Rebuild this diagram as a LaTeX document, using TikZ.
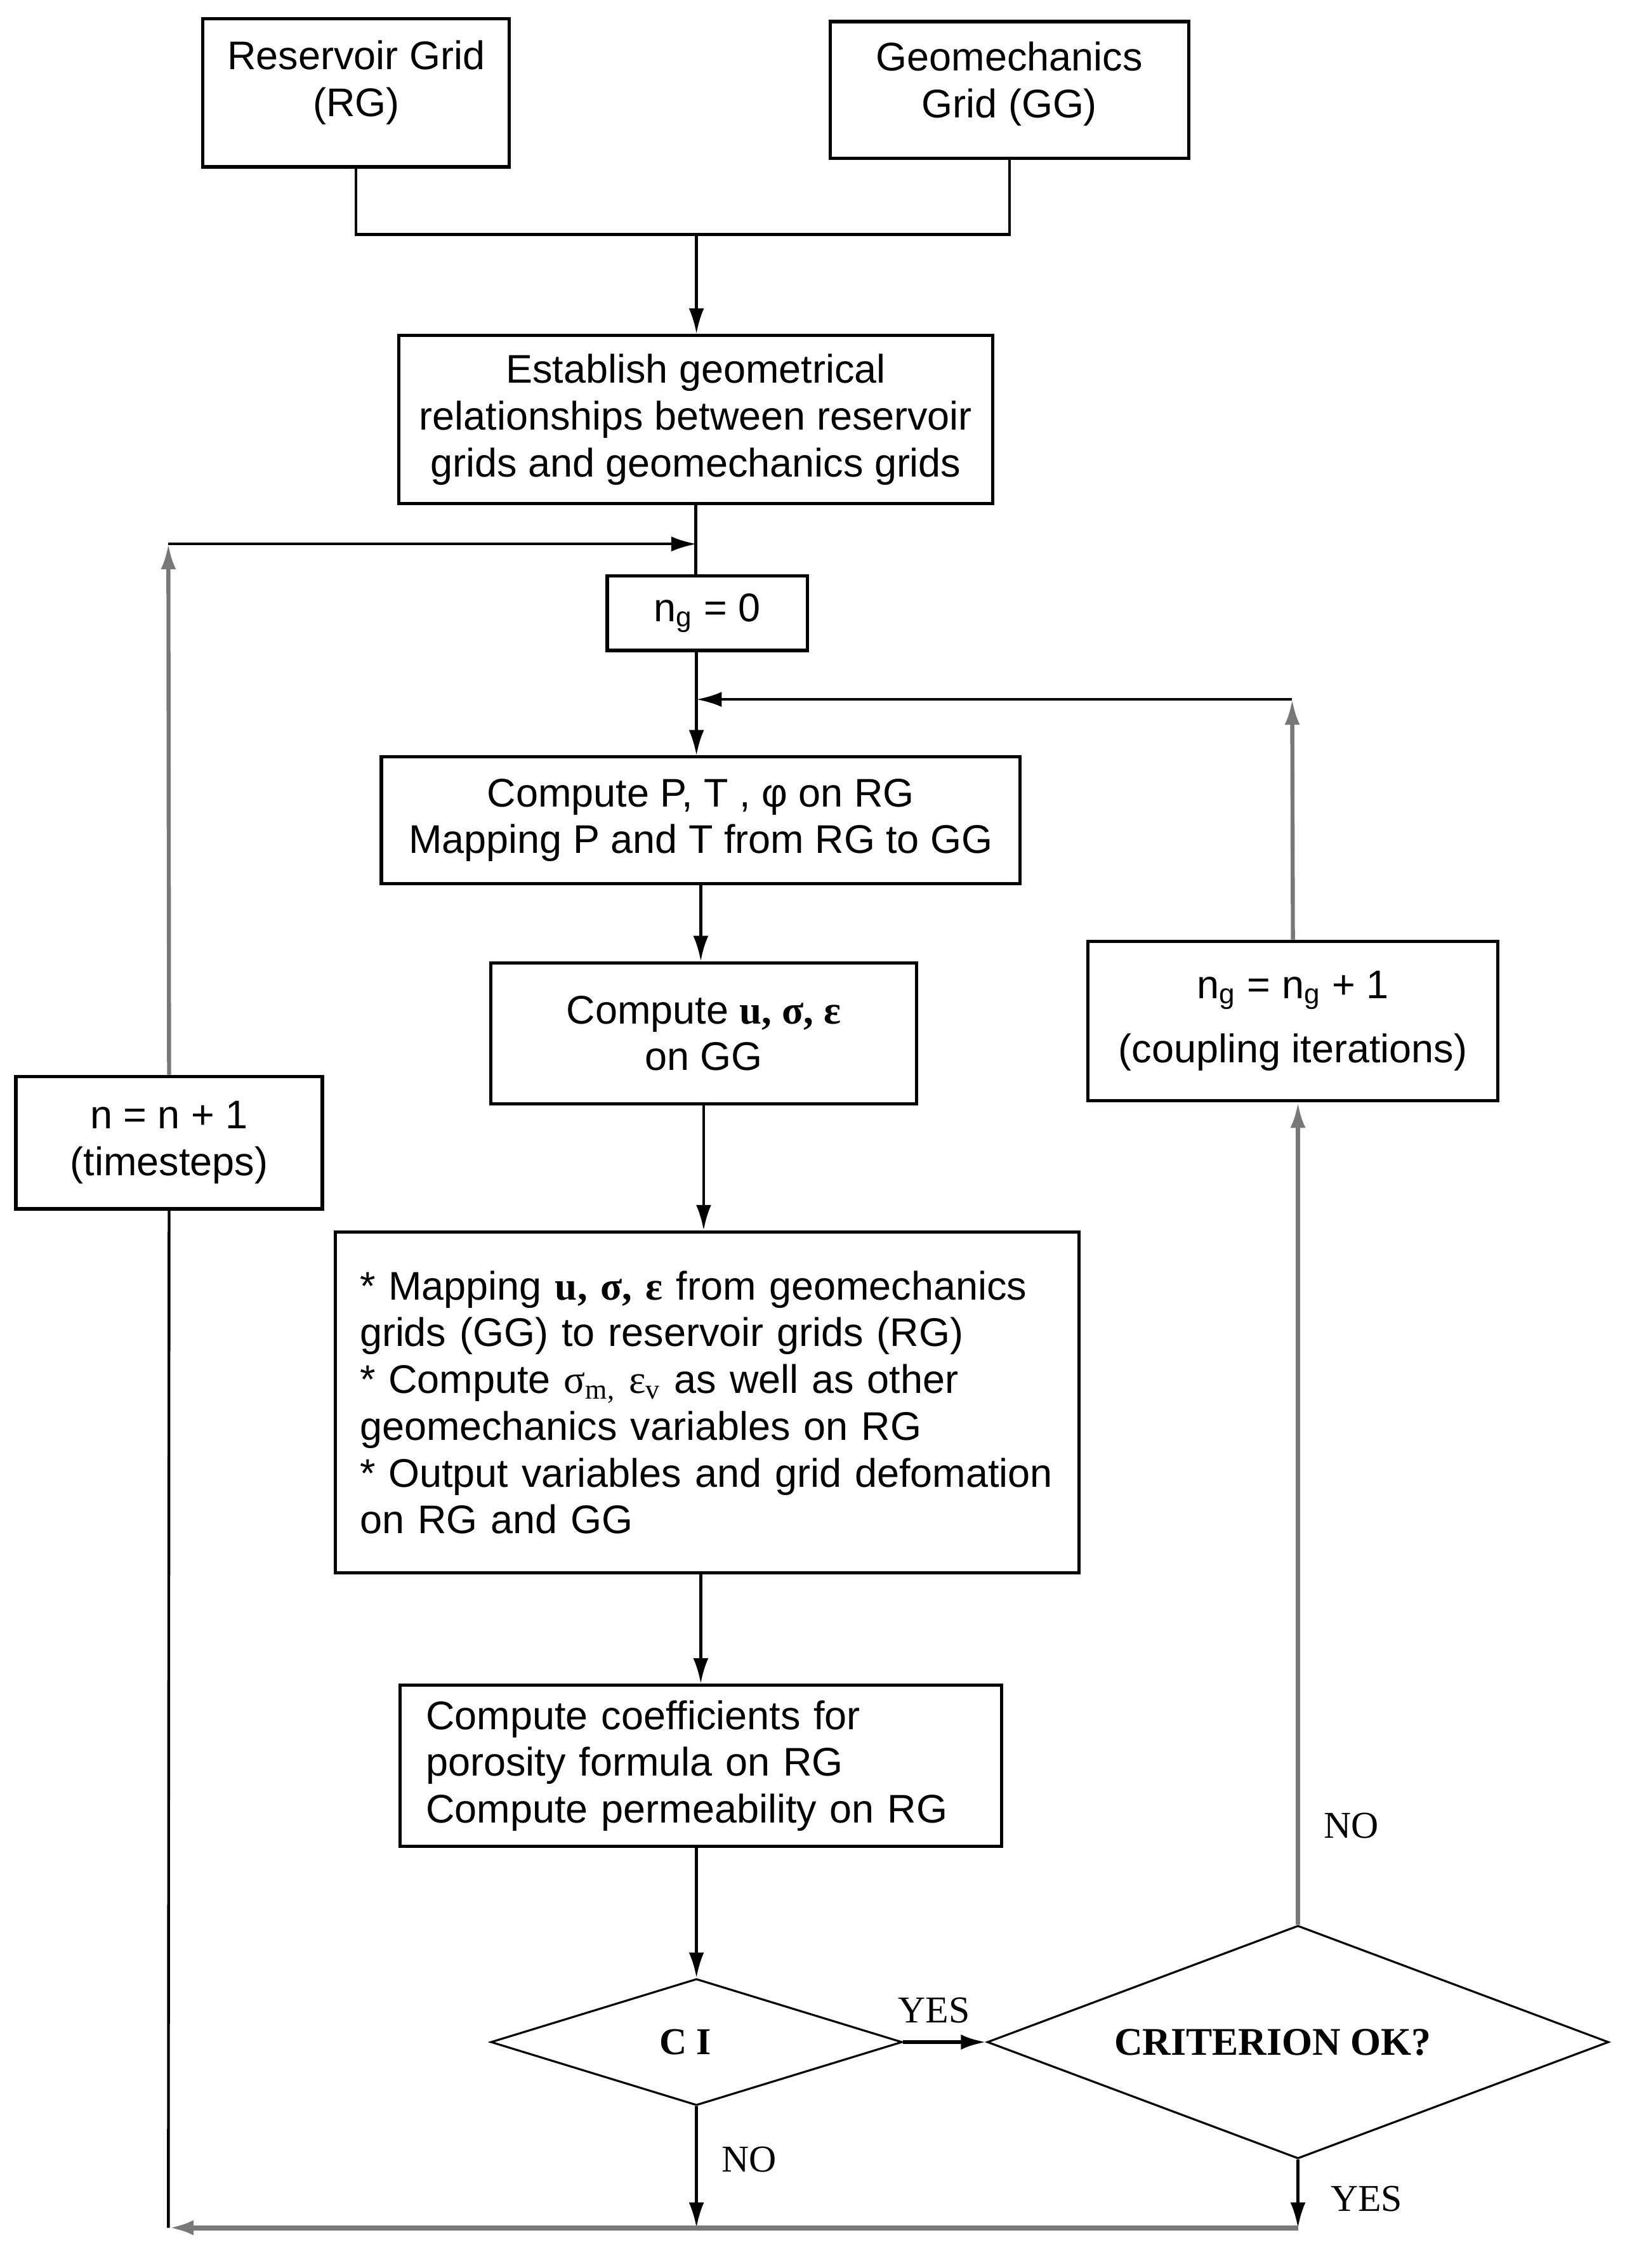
\documentclass[tikz,border=0pt]{standalone}
\usepackage{fontspec}
\setmainfont{Liberation Sans}
\newfontfamily\rmtimes{Liberation Serif}
\usetikzlibrary{shapes.geometric,arrows.meta}
\definecolor{linegray}{gray}{0.47}

\begin{document}
\begin{tikzpicture}[x=0.02cm,y=-0.02cm]
    \useasboundingbox (0,0) rectangle (1134,1576);
    \begin{scope}[every node/.style={draw, line width=1.3pt, align=center, inner sep=2pt, font=\fontsize{15.8}{18.5}\selectfont}]
        \node[minimum width=4.26cm, minimum height=2.06cm] (rg) at (247.5,64.5) {Reservoir Grid\\(RG)\\[-7pt]};
        \node[minimum width=4.98cm, minimum height=1.90cm] (gg) at (701.5,62.5) {Geomechanics\\Grid (GG)\\[-10.5pt]};
        \node[minimum width=8.26cm, minimum height=2.34cm] (est) at (483.5,291.5) {Establish geometrical\\relationships between reservoir\\grids and geomechanics grids};
        \node[minimum width=2.78cm, minimum height=1.04cm] (ng0) at (491.5,426) {n\textsubscript{g} = 0};
        \node[minimum width=8.88cm, minimum height=1.76cm] (cp) at (487,570) {Compute P, T , φ on RG\\Mapping P and T from RG to GG};
        \node[minimum width=5.92cm, minimum height=1.96cm] (cu) at (489,718) {Compute {\rmtimes\bfseries u, σ, ε}\\on GG};
        \node[minimum width=10.34cm, minimum height=4.74cm, align=left, inner xsep=0.34cm, text width=9.66cm] (map) at (491.5,974.5)
            {* Mapping {\rmtimes\bfseries u, σ, ε} from geomechanics\\grids (GG) to reservoir grids (RG)\\{}* Compute {\rmtimes σ\textsubscript{m,} ε\textsubscript{v}} as well as other\\geomechanics variables on RG\\{}* Output variables and grid defomation\\on RG and GG};
        \node[minimum width=8.36cm, minimum height=2.24cm, align=left, inner xsep=0.36cm, text width=7.64cm] (coef) at (487,1227)
            {Compute coefficients for\\porosity formula on RG\\Compute permeability on RG};
        \node[minimum width=4.26cm, minimum height=1.84cm] (ts) at (117.5,794) {n = n + 1\\(timesteps)};
        \node[minimum width=5.70cm, minimum height=2.22cm] (ngit) at (898.5,709.5) {n\textsubscript{g} = n\textsubscript{g} + 1\\[7pt](coupling iterations)};
    \end{scope}

    \begin{scope}[every node/.style={draw, diamond, line width=0.8pt, inner sep=0pt, font=\rmtimes\bfseries\fontsize{15}{17}\selectfont}]
        \node[aspect=3.25, minimum width=5.72cm, minimum height=1.76cm] (ci) at (484,1419) {\hspace{-0.3cm}C I};
        \node[aspect=2.67, minimum width=8.64cm, minimum height=3.24cm, font=\rmtimes\bfseries\fontsize{15.5}{17}\selectfont] (crit) at (902,1419) {\hspace{-0.7cm}CRITERION OK?};
    \end{scope}

    \coordinate (j) at (484,163);
    \coordinate (tl) at (117,378);
    \coordinate (top) at (484,378);
    \coordinate (mid) at (484,486);
    \coordinate (tr) at (898,486);
    \coordinate (bl) at (117,1548);
    \coordinate (br) at (902,1548);

    \begin{scope}[every node/.style={text=black, font=\rmtimes\fontsize{15}{17}\selectfont, inner sep=1pt}, every path/.style={line width=1.1pt, >={Latex[length=10pt,width=6pt]}}]
        \draw (rg.south) |- (j) -| (gg.south);
        \draw[->] (j) -- (j |- est.north);
        \draw (est.south) -- (est.south |- ng0.north);
        \draw[->, linegray, line width=1.6pt] (ts.north) -- (tl);
        \draw[->] (tl) -- (top);
        \draw[->] (ng0.south -| mid) -- (mid |- cp.north);
        \draw[->, linegray, line width=1.6pt] (ngit.north) -- (tr);
        \draw[->] (tr) -- (mid);
        \draw[->] (cp.south) -- (cp.south |- cu.north);
        \draw[->] (cu.south) -- (cu.south |- map.north);
        \draw[->] (map.south -| coef.south) -- (coef.north);
        \draw[->] (coef.south -| ci.north) -- (ci.north);
        \draw[->, line width=1.6pt] (ci.east) -- node[pos=0.37, above=0.2cm] {YES} (crit.west);
        \draw[->, linegray, line width=1.6pt] (crit.north) -- node[pos=0.12, right=0.3cm] {NO} (crit.north |- ngit.south);
        \draw[->] (ci.south) -- node[pos=0.44, right=0.3cm] {NO} (ci.south |- bl);
        \draw[->] (crit.south) -- node[pos=0.58, right=0.4cm] {YES} (br);
        \draw[->, linegray, line width=2pt] (br) -- (bl);
        \draw (bl) -- (ts.south);
    \end{scope}
\end{tikzpicture}
\end{document}
